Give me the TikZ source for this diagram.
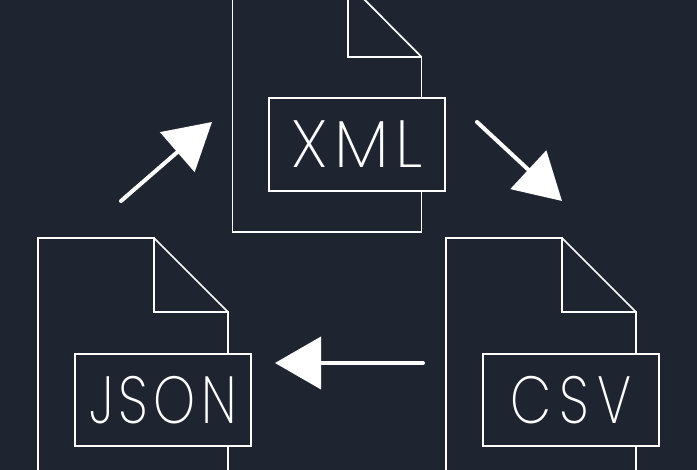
\documentclass[tikz,border=0pt]{standalone}
\usepackage{fontspec}
\usetikzlibrary{arrows.meta}
\newfontfamily\tagfont[UprightFont=* ExtraLight,FakeStretch=0.8]{Poppins}
\newfontfamily\widetagfont[UprightFont=* ExtraLight]{Poppins}
\definecolor{slatebg}{HTML}{1F2530}
\tikzset{
    fileline/.style={white,line width=1.3pt,line join=miter},
    tagbox/.style={draw=white,fill=slatebg,line width=1.3pt,minimum width=132pt,minimum height=69.5pt,inner sep=0pt,text=white,font=\tagfont\fontsize{50}{50}\selectfont},
    flowarrow/.style={white,line width=3pt,line cap=round,-{Triangle[length=34.5pt,width=39pt,sharp]}}
}
\begin{document}
\begin{tikzpicture}[x=0.75pt,y=-0.75pt]
    \useasboundingbox[fill=slatebg] (0,0) rectangle (697,470);
    % files
    \draw[fileline] (348,-17) -- (232.5,-17) -- (232.5,232) -- (421.5,232) -- (421.5,57) -- (348,57) -- cycle;
    \draw[fileline] (348,-17) -- (421.5,57);
    \draw[fileline] (154,238) -- (38,238) -- (38,487) -- (228,487) -- (228,312) -- (154,312) -- cycle;
    \draw[fileline] (154,238) -- (228,312);
    \draw[fileline] (562,238) -- (446,238) -- (446,487) -- (636,487) -- (636,312) -- (562,312) -- cycle;
    \draw[fileline] (562,238) -- (636,312);
    % labels
    \node[tagbox] (xml) at (357,144.5) {\widetagfont\addfontfeature{LetterSpace=10}XML};
    \node[tagbox] (json) at (163,400) {\addfontfeature{LetterSpace=8}JSON};
    \node[tagbox] (csv) at (571,400) {\addfontfeature{LetterSpace=12}CSV};
    % arrows
    \coordinate (xmlfrom) at (121,201);
    \coordinate (xmlto) at (212,122);
    \coordinate (csvfrom) at (477,122);
    \coordinate (csvto) at (562,201);
    \coordinate (jsonfrom) at (423,363);
    \coordinate (jsonto) at (275,363);
    \draw[flowarrow] (xmlfrom) -- (xmlto);
    \draw[flowarrow] (csvfrom) -- (csvto);
    \draw[flowarrow] (jsonfrom) -- (jsonto);
\end{tikzpicture}
\end{document}
